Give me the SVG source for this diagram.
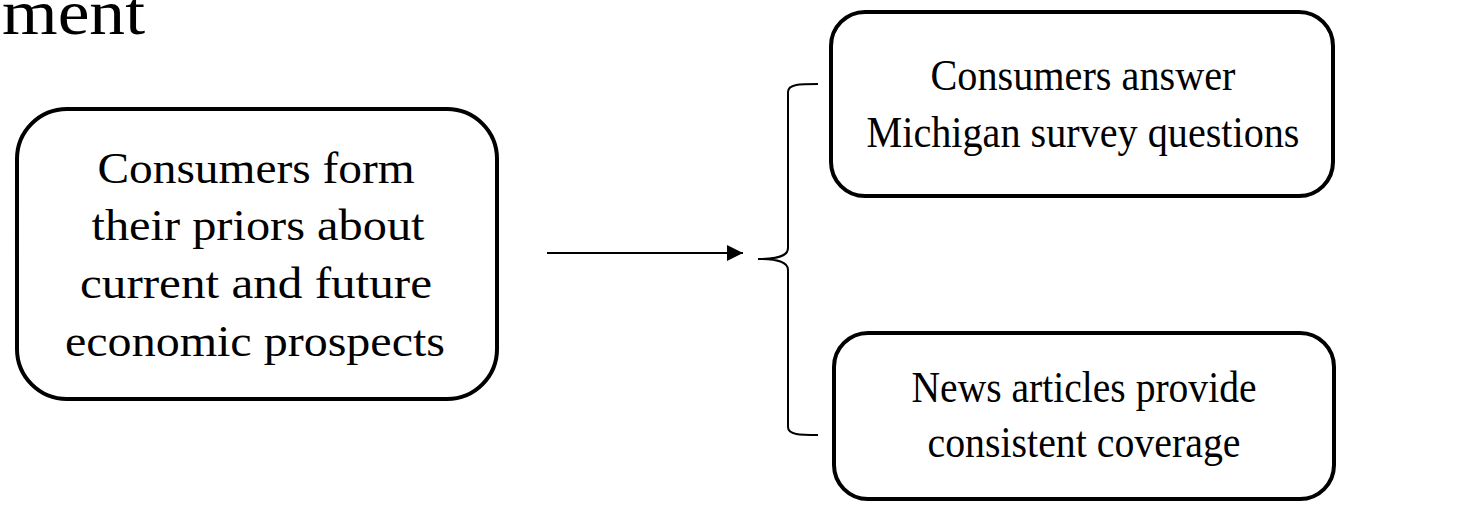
<svg xmlns="http://www.w3.org/2000/svg" width="1479" height="505" viewBox="0 0 1479 505">
<style>
.box{fill:#fff;stroke:#000;stroke-width:4}
.t{font-family:"Liberation Serif","DejaVu Serif",serif;font-size:45px;fill:#000;text-anchor:middle}
.title{font-family:"Liberation Serif","DejaVu Serif",serif;font-size:64px;fill:#000}
.conn{fill:none;stroke:#000;stroke-width:2}
</style>
<defs>
<marker id="ah" markerWidth="8" markerHeight="8" refX="8" refY="4" orient="auto" markerUnits="userSpaceOnUse" viewBox="0 0 8 8">
<path d="M0,0 L8,4 L0,8 Z" fill="#000"/>
</marker>
<marker id="ah2" markerWidth="16" markerHeight="16" refX="16" refY="8" orient="auto" markerUnits="userSpaceOnUse" viewBox="0 0 16 16">
<path d="M0,0 L16,8 L0,16 Z" fill="#000"/>
</marker>
</defs>
<text class="title" x="2" y="34" textLength="143" lengthAdjust="spacingAndGlyphs">ment</text>
<g id="node-priors">
<rect class="box" x="17" y="109" width="480" height="290" rx="50" ry="50"/>
<text class="t" x="256" y="183" textLength="317" lengthAdjust="spacingAndGlyphs">Consumers form</text>
<text class="t" x="258" y="240" textLength="333" lengthAdjust="spacingAndGlyphs">their priors about</text>
<text class="t" x="256" y="298" textLength="352" lengthAdjust="spacingAndGlyphs">current and future</text>
<text class="t" x="255" y="356" textLength="380" lengthAdjust="spacingAndGlyphs">economic prospects</text>
</g>
<g id="node-michigan">
<rect class="box" x="831" y="12" width="502" height="184" rx="34" ry="34"/>
<text class="t" x="1083" y="90" textLength="305" lengthAdjust="spacingAndGlyphs">Consumers answer</text>
<text class="t" x="1083" y="147" textLength="433" lengthAdjust="spacingAndGlyphs">Michigan survey questions</text>
</g>
<g id="node-news">
<rect class="box" x="834" y="333" width="500" height="166" rx="34" ry="34"/>
<text class="t" x="1084" y="402" textLength="345" lengthAdjust="spacingAndGlyphs">News articles provide</text>
<text class="t" x="1084" y="457" textLength="313" lengthAdjust="spacingAndGlyphs">consistent coverage</text>
</g>
<g id="connectors">
<line class="conn" x1="547" y1="253" x2="743" y2="253" marker-end="url(#ah2)"/>
<path class="conn" d="M818,84 C800,84 788,84 788,92 L788,248 C788,256 778,259 758,259 C778,259 788,262 788,270 L788,427 C788,435 800,435 818,435"/>
</g>
</svg>
